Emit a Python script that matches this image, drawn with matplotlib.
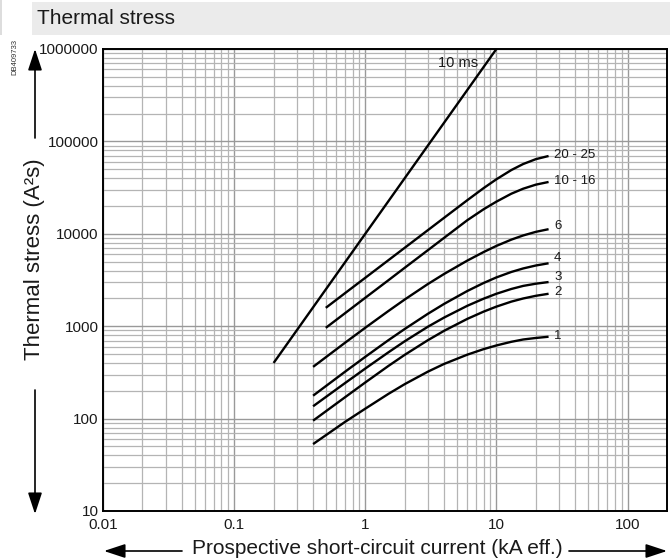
import numpy as np
import matplotlib
matplotlib.use('Agg')
import matplotlib.pyplot as plt
from matplotlib.patches import Rectangle, FancyArrowPatch
from matplotlib.ticker import FixedLocator, LogLocator, NullFormatter

plt.rcParams['font.family'] = ['Liberation Sans', 'DejaVu Sans']

# --- data (kA eff. vs A²s) ---
x_10ms = [0.2, 10]
y_10ms = [400, 1000000]

x_start05 = [0.5, 0.7, 1, 1.5, 2, 3, 4, 6, 8, 10, 13, 16, 20, 25]
x_start04 = [0.4, 0.7, 1, 1.5, 2, 3, 4, 6, 8, 10, 13, 16, 20, 25]

y_20_25 = [1580, 2275, 3340, 5175, 7060, 10940, 14930, 23100, 31260, 38900, 48980, 56890, 64270, 69500]
y_10_16 = [960, 1380, 2030, 3140, 4290, 6640, 9060, 14030, 18450, 22280, 27160, 30760, 34040, 36390]
y_6 = [363, 661, 962, 1459, 1945, 2858, 3681, 5129, 6353, 7396, 8650, 9594, 10500, 11220]
y_4 = [177, 321, 466, 705, 933, 1361, 1746, 2404, 2938, 3373, 3864, 4217, 4539, 4797]
y_3 = [136, 242, 348, 521, 687, 986, 1242, 1663, 1986, 2244, 2529, 2729, 2884, 3006]
y_2 = [95, 170, 246, 371, 490, 705, 893, 1200, 1439, 1629, 1845, 1995, 2133, 2244]
y_1 = [53, 92, 128, 185, 236, 322, 391, 492, 565, 619, 678, 718, 746, 769]

curve_names = ['20 - 25', '10 - 16', '6', '4', '3', '2', '1']
label_y = [71900, 37600, 12250, 5500, 3430, 2360, 787]
label_x = 27.5

x_ticks = [0.01, 0.1, 1, 10, 100]
x_tick_labels = ['0.01', '0.1', '1', '10', '100']
y_ticks = [10, 100, 1000, 10000, 100000, 1000000]
y_tick_labels = ['10', '100', '1000', '10000', '100000', '1000000']

W, H = 670, 558
fig = plt.figure(figsize=(W / 100, H / 100), dpi=100)

# title band
fig.patches.append(Rectangle((32 / W, 1 - 35 / H), 1, 33 / H, transform=fig.transFigure,
                             facecolor='#ebebeb', edgecolor='none', zorder=0))
fig.patches.append(Rectangle((0, 1 - 35 / H), 2 / W, 35 / H, transform=fig.transFigure,
                             facecolor='#dddddd', edgecolor='none', zorder=0))
fig.text(37 / W, 1 - 19 / H, 'Thermal stress', fontsize=15, va='center', ha='left', color='#1a1a1a')
fig.text(15 / W, 1 - 57 / H, 'DB409733', fontsize=5.5, rotation=90, va='center', ha='center',
         color='#333333')

ax = fig.add_axes([103 / W, 1 - 511 / H, (667 - 103) / W, (511 - 49) / H])
ax.set_xscale('log')
ax.set_yscale('log')
ax.set_xlim(0.01, 200)
ax.set_ylim(10, 1000000)

# grid
ax.xaxis.set_major_locator(FixedLocator(x_ticks))
ax.yaxis.set_major_locator(FixedLocator(y_ticks))
ax.xaxis.set_minor_locator(LogLocator(base=10, subs=np.arange(2, 10), numticks=20))
ax.yaxis.set_minor_locator(LogLocator(base=10, subs=np.arange(2, 10), numticks=20))
ax.xaxis.set_minor_formatter(NullFormatter())
ax.yaxis.set_minor_formatter(NullFormatter())
ax.set_xticklabels(x_tick_labels)
ax.set_yticklabels(y_tick_labels)
ax.grid(which='major', color='#999999', lw=1.0)
ax.grid(which='minor', color='#b4b4b4', lw=0.9)
ax.set_axisbelow(True)
ax.tick_params(which='both', length=0)
ax.tick_params(axis='x', pad=5, labelsize=11, colors='#1a1a1a')
ax.tick_params(axis='y', pad=3, labelsize=11, colors='#1a1a1a')
for s in ax.spines.values():
    s.set_linewidth(1.4)
    s.set_color('black')

# curves
ax.plot(x_10ms, y_10ms, color='black', lw=1.7, solid_capstyle='butt')
series = [(x_start05, y_20_25), (x_start05, y_10_16), (x_start04, y_6), (x_start04, y_4),
          (x_start04, y_3), (x_start04, y_2), (x_start04, y_1)]
for (xs, ys), name, ly in zip(series, curve_names, label_y):
    ax.plot(xs, ys, color='black', lw=1.7, solid_capstyle='butt', solid_joinstyle='round')
    ax.text(label_x, ly, name, fontsize=9.5, ha='left', va='center', color='#1a1a1a')
ax.text(3.57, 714000, '10 ms', fontsize=10.5, ha='left', va='center', color='#1a1a1a')

# axis titles with arrows
fig.text(35 / W, 1 - 259 / H, 'Thermal stress (A²s)', fontsize=16, rotation=90,
         va='center', ha='center', color='#1a1a1a')
arw = dict(arrowstyle='-|>,head_length=1.0,head_width=0.33', color='black', lw=1.2,
           shrinkA=0, shrinkB=0, mutation_scale=13, transform=fig.transFigure)
fig.add_artist(FancyArrowPatch((35 / W, 1 - 138 / H), (35 / W, 1 - 49 / H), **arw))
fig.add_artist(FancyArrowPatch((35 / W, 1 - 390 / H), (35 / W, 1 - 514 / H), **arw))

fig.text(377 / W, 1 - 548 / H, 'Prospective short-circuit current (kA eff.)', fontsize=15,
         va='center', ha='center', color='#1a1a1a')
fig.add_artist(FancyArrowPatch((182 / W, 1 - 551 / H), (104 / W, 1 - 551 / H), **arw))
fig.add_artist(FancyArrowPatch((569 / W, 1 - 551 / H), (667 / W, 1 - 551 / H), **arw))

fig.savefig('out.png', dpi=100)
